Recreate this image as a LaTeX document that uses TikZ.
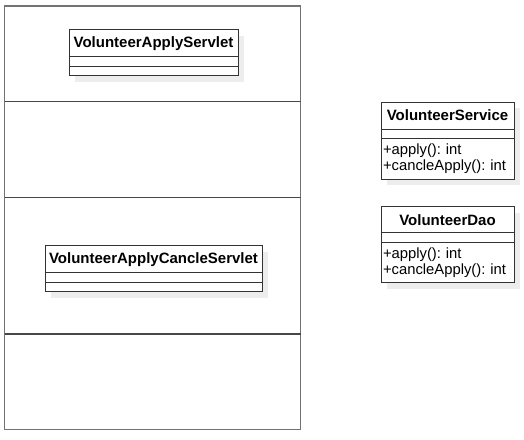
\documentclass[tikz,border=0pt]{standalone}
\usepackage{fontspec}
\setmainfont{Liberation Sans}
\usetikzlibrary{positioning, shadows}

\begin{document}
\begin{tikzpicture}
  [x=1pt, y=-1pt,
   lane/.style={draw=black!55, line width=1.5pt},
   rowline/.style={draw=black!72, line width=1.2pt},
   part/.style={rectangle, draw=black!80, fill=white, line width=1pt, inner sep=0pt, outer sep=0pt,
     drop shadow={shadow xshift=6pt, shadow yshift=-6pt, fill=black!7, opacity=1}},
   head/.style={part, font=\fontsize{15}{15}\selectfont\bfseries},
   body/.style={part, font=\fontsize{14.8}{16}\selectfont\frenchspacing, align=left, inner xsep=2pt}]
  \useasboundingbox (0,0) rectangle (524,439);
  % lanes on the left
  \draw [lane] (4.5,6) rectangle (300.5,429.5);
  \foreach \y in {101.7, 197.7, 334}
    \draw [rowline] (4.5,\y) -- (300.5,\y);
  % servlet classes
  \foreach \n/\t/\x/\y/\w in {aps/VolunteerApplyServlet/69/29.7/169,
                               acs/VolunteerApplyCancleServlet/45/245.7/217}{
    \node (\n) at (\x,\y) [head, anchor=north west, minimum width=\w pt, minimum height=27pt] {\t};
    \node (\n a) [part, below=0pt of \n, minimum width=\w pt, minimum height=10pt] {};
    \node (\n m) [part, below=0pt of \n a, minimum width=\w pt, minimum height=9pt] {};
  }
  % service and dao classes
  \foreach \n/\t/\y/\h in {svc/VolunteerService/102/27, dao/VolunteerDao/206.7/26}{
    \node (\n) at (381,\y) [head, anchor=north west, minimum width=133pt, minimum height=\h pt] {\t};
    \node (\n a) [part, below=0pt of \n, minimum width=133pt, minimum height=9.5pt] {};
    \node (\n m) [body, below=0pt of \n a, text width=129pt, minimum height=40.5pt]
      {+apply(): int\\+cancleApply(): int};
  }
\end{tikzpicture}
\end{document}
